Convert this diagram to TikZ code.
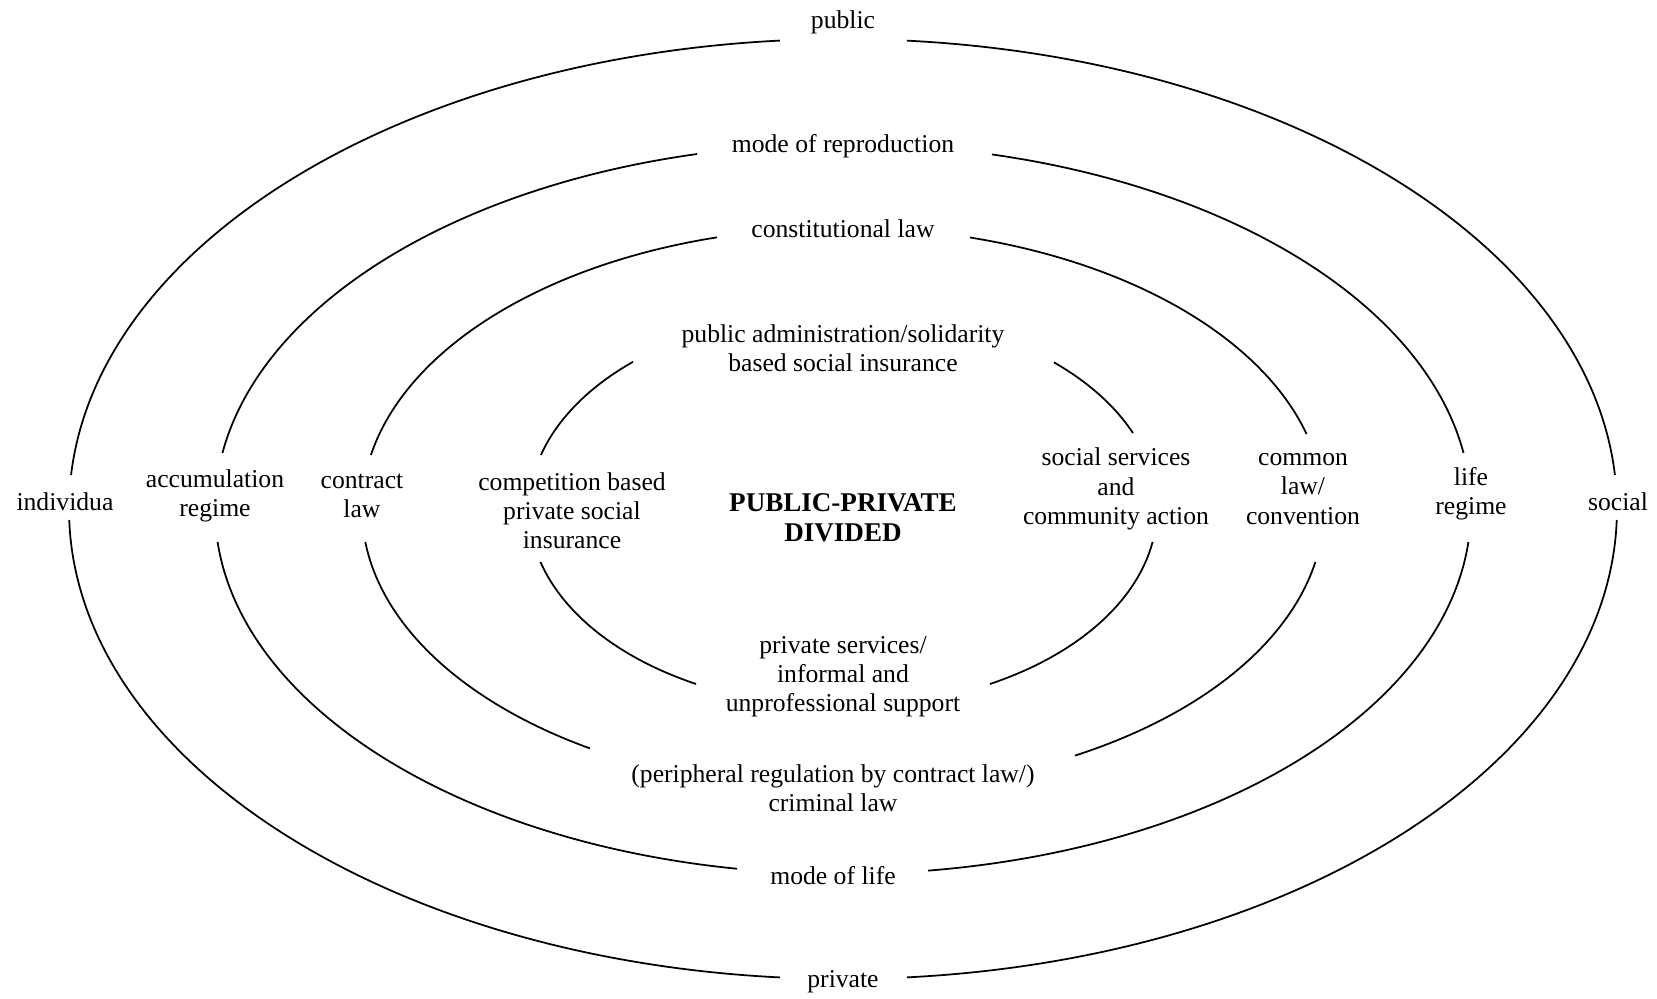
\documentclass[tikz,border=0pt]{standalone}
\usepackage{fontspec}
\setmainfont{Liberation Serif}
\usepackage{tikz}

\begin{document}
\begin{tikzpicture}[every node/.style={font=\fontsize{7.3}{8.3}\selectfont,align=center,inner sep=0pt},
  ring/.style={line width=0.5pt}]
\useasboundingbox (-8.43,-4.89) rectangle (8.14,5.09);

% Outer ellipse - public / individual / private / social
\foreach \s/\e in {4.15/85.26, 94.67/175.85, 181.34/265.33, 274.74/358.66}
  \draw[ring] (\s:7.74 and 4.70) arc[start angle=\s, end angle=\e, x radius=7.74, y radius=4.70];

% Second ellipse - modes of reproduction and life
\foreach \s/\e in {8.83/76.28, 103.44/171.17, 185.19/260.28, 277.78/354.81}
  \draw[ring] (\s:6.28 and 3.65) arc[start angle=\s, end angle=\e, x radius=6.28, y radius=3.65];

% Third ellipse - law
\foreach \s/\e in {15.45/74.69, 105.19/168.94, 186.73/238.26, 298.84/349.15}
  \draw[ring] (\s:4.81 and 2.815) arc[start angle=\s, end angle=\e, x radius=4.81, y radius=2.815];

% Inner ellipse - provision
\foreach \s/\e in {22.57/47.78, 131.98/164.17, 195.53/242.09, 297.91/350.41}
  \draw[ring] (\s:3.14 and 1.98) arc[start angle=\s, end angle=\e, x radius=3.14, y radius=1.98];

% Top labels
\node (public) at (0,4.87) {public};
\node (reproduction) at (0,3.63) {mode of reproduction};
\node (constitutional) at (0,2.80) {constitutional law};
\node (solidarity) at (0,1.61) {public administration/solidarity\\based social insurance};

% Left labels
\node (individual) at (-7.78,0.07) {individua};
\node (accumulation) at (-6.28,0.13) {accumulation\\regime};
\node (contract) at (-4.81,0.13) {contract\\law};
\node (competition) at (-2.71,-0.02) {competition based\\private social\\insurance};

% Centre
\node[font=\fontsize{7.7}{8.6}\selectfont\bfseries] (divided) at (0,-0.09) {PUBLIC-PRIVATE\\DIVIDED};

% Right labels
\node (community) at (2.73,0.20) {social services\\and\\community action};
\node (common) at (4.60,0.20) {common\\law/\\convention};
\node (liferegime) at (6.28,0.15) {life\\regime};
\node (social) at (7.75,0.07) {social};

% Bottom labels
\node (informal) at (0,-1.68) {private services/\\informal and\\unprofessional support};
\node (peripheral) at (-0.10,-2.79) {(peripheral regulation by contract law/)\\criminal law};
\node (modelife) at (-0.10,-3.67) {mode of life};
\node (private) at (0,-4.73) {private};

\end{tikzpicture}
\end{document}
